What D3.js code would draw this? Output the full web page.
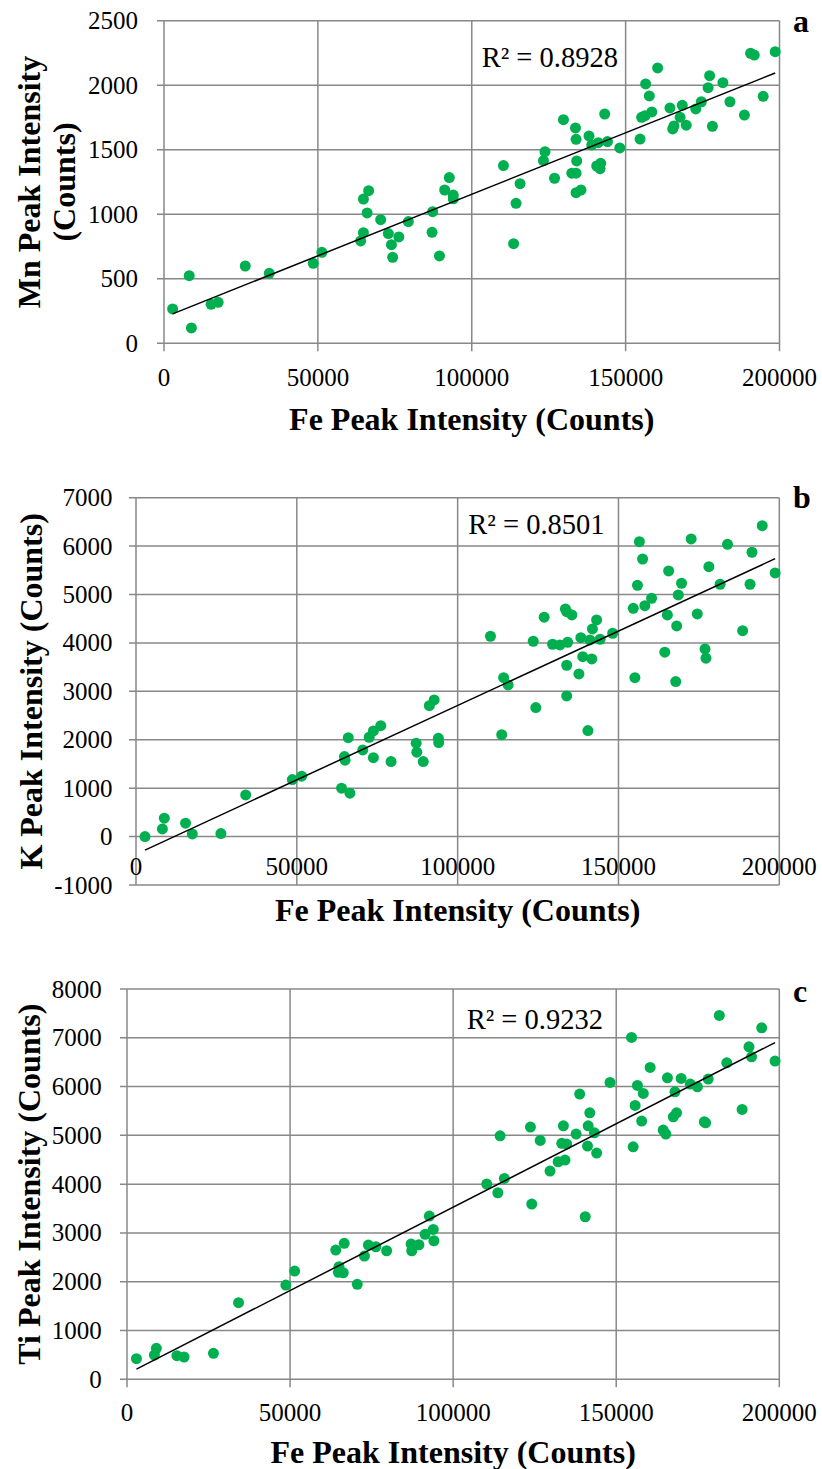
<!DOCTYPE html>
<html>
<head>
<meta charset="utf-8">
<script src="https://cdnjs.cloudflare.com/ajax/libs/d3/7.8.5/d3.min.js"></script>
<style>
  html, body { margin: 0; padding: 0; background: #fff; }
  svg { display: block; }
  text { font-family: "Liberation Serif", "Times New Roman", serif; fill: #000; }
</style>
</head>
<body>
<svg id="fig" width="822" height="1469"></svg>
<script>
// ---- Data: Fe peak intensity vs Mn, K, Ti peak intensity (counts) ----
const feMn = [2800, 8200, 8900, 15300, 17600, 26400, 34200, 48500, 51300, 63900, 64800, 64800, 66500, 66000, 70400, 72900, 73900, 74300, 76300, 79400, 87300, 87100, 89500, 92700, 91200, 94000, 94000,
  110300, 115700, 114400, 113600, 123800, 123300, 126900, 129800, 133700, 133900, 134100, 132500, 133900, 133900, 135500, 138100, 139000, 141100, 144100, 143200, 140600, 141900, 141700, 148100,
  154700, 155200, 156300, 156500, 157700, 158500, 160400, 164400, 165300, 165700, 168400, 167700, 169700, 172800, 174600, 176800, 177300, 178200, 181600, 183900, 188600, 190600, 191800, 194700, 198600];
const mn = [266, 524, 119, 302, 318, 599, 542, 620, 705, 793, 857, 1118, 1183, 1010, 958, 850, 764, 666, 824, 943, 1020, 860, 677, 1284, 1188, 1149, 1120,
  1377, 1237, 1085, 772, 1485, 1415, 1279, 1733, 1669, 1581, 1413, 1318, 1318, 1167, 1188, 1607, 1537, 1555, 1563, 1777, 1374, 1395, 1353, 1514,
  1583, 1751, 1764, 2010, 1917, 1793, 2134, 1824, 1661, 1684, 1844, 1751, 1690, 1816, 1872, 1981, 2074, 1682, 2020, 1872, 1769, 2247, 2234, 1914, 2260];

const feK = [2800, 8200, 8800, 15400, 17500, 26400, 34100, 48600, 51500, 63900, 66500, 64800, 65000, 66000, 70500, 72500, 73800, 76100, 73800, 79300, 87100, 87300, 89300, 91200, 92700, 94000, 94100,
  110200, 114300, 115700, 113700, 123500, 124300, 126900, 129500, 131800, 133500, 133900, 135500, 134200, 133900, 133900, 137700, 138300, 138900, 141700, 141100, 141900, 143200, 144300, 140500, 148200,
  154600, 155900, 155100, 156500, 157500, 158200, 160300, 164400, 165200, 165600, 167800, 168100, 168600, 169600, 172600, 174500, 176900, 177200, 178100, 181600, 183900, 188600, 190900, 191500, 194700, 198700];
const k = [0, 159, 380, 277, 56, 62, 861, 1177, 1247, 999, 896, 1652, 1578, 2044, 1790, 2052, 2183, 2292, 1631, 1549, 1929, 1743, 1549, 2705, 2823, 2032, 1941,
  4138, 3283, 3133, 2106, 4035, 2664, 4531, 3973, 3959, 4702, 4646, 4578, 4014, 3539, 2905, 3360, 4109, 3717, 3669, 4062, 4289, 4475, 4076, 2189, 4200,
  4716, 5191, 3283, 6092, 5734, 4770, 4923, 3808, 4578, 5487, 3201, 4351, 4991, 5233, 6148, 4599, 3876, 3684, 5576, 5212, 6038, 4254, 5212, 5873, 6422, 5445];

const feTi = [2900, 8400, 9000, 15300, 17500, 26500, 34200, 48700, 51400, 64000, 66600, 65000, 64800, 66300, 70600, 72800, 74000, 76300, 79600, 87100, 87300, 89500, 91400, 92700, 93900, 94100,
  110300, 113700, 115700, 114400, 123700, 126700, 129700, 132200, 133800, 133300, 134800, 134300, 124100, 137700, 138800, 141200, 141400, 141900, 143300, 144000, 140500, 148100,
  154700, 155200, 155800, 156500, 157800, 158300, 160400, 164400, 165200, 165700, 167500, 168500, 168000, 169900, 172700, 174900, 177000, 177400, 178200, 181600, 183900, 188600, 190700, 191500, 194600, 198700];
const ti = [422, 498, 635, 484, 457, 533, 1570, 1932, 2219, 2649, 2787, 2307, 2192, 2184, 1946, 2526, 2752, 2717, 2635, 2772, 2635, 2758, 2971, 3346, 3073, 2840,
  4002, 3824, 4118, 4991, 5170, 4897, 4268, 4459, 5196, 4836, 4821, 4493, 3592, 5026, 5846, 4780, 5196, 5463, 5053, 4637, 3332, 6085,
  7008, 4766, 5614, 6024, 5293, 5860, 6393, 5108, 5026, 6180, 5381, 5463, 5893, 6167, 6051, 5995, 5278, 5258, 6153, 7458, 6487, 5532, 6815, 6610, 7204, 6522];

// ---- Axis ticks and labels ----
const feTicks = [0, 50000, 100000, 150000, 200000];
const mnTicks = [0, 500, 1000, 1500, 2000, 2500];
const kTicks = [-1000, 0, 1000, 2000, 3000, 4000, 5000, 6000, 7000];
const tiTicks = [0, 1000, 2000, 3000, 4000, 5000, 6000, 7000, 8000];
const r2Labels = ["R\u00B2 = 0.8928", "R\u00B2 = 0.8501", "R\u00B2 = 0.9232"];
const panelLetters = ["a", "b", "c"];
const yTitles = [["Mn Peak Intensity", "(Counts)"], ["K Peak Intensity (Counts)"], ["Ti Peak Intensity (Counts)"]];
const xTitle = "Fe Peak Intensity (Counts)";

// ---- Panel layout ----
const panels = [
  { xs: feMn, ys: mn, yTicks: mnTicks, left: 164, right: 779.5, top: 20.7, bottom: 343.3,
    xLabelY: 377, xTitleY: 419, yLabelRight: 138, yTitleX: [28.5, 64],
    r2: [481.7, 66.7], letter: [793, 32] },
  { xs: feK, ys: k, yTicks: kTicks, left: 136, right: 779.3, top: 497.7, bottom: 885,
    xLabelY: 866, xTitleY: 910, yLabelRight: 112.5, yTitleX: [31],
    r2: [468.3, 534.3], letter: [793, 508] },
  { xs: feTi, ys: ti, yTicks: tiTicks, left: 127, right: 779.3, top: 989, bottom: 1379.3,
    xLabelY: 1412, xTitleY: 1452, yLabelRight: 101.7, yTitleX: [28.5],
    r2: [466.7, 1029.3], letter: [793, 1002] }
];

const GRID = "#888888";
const GREEN = "#00B050";
const svg = d3.select("#fig");

// Ordinary least-squares fit of y on x
function linearFit(xs, ys) {
  const mx = d3.mean(xs), my = d3.mean(ys);
  let sxy = 0, sxx = 0;
  xs.forEach((x, i) => { sxy += (x - mx) * (ys[i] - my); sxx += (x - mx) * (x - mx); });
  const slope = sxy / sxx;
  return { slope, intercept: my - slope * mx };
}

panels.forEach((p, idx) => {
  const x = d3.scaleLinear().domain([0, 200000]).range([p.left, p.right]);
  const y = d3.scaleLinear().domain(d3.extent(p.yTicks)).range([p.bottom, p.top]);
  const g = svg.append("g");

  // horizontal gridlines with short outward ticks on the left
  g.selectAll("line.hg").data(p.yTicks).join("line")
    .attr("x1", p.left - 7).attr("x2", p.right)
    .attr("y1", d => y(d)).attr("y2", d => y(d))
    .attr("stroke", GRID).attr("stroke-width", 1.5);

  // vertical gridlines with short outward ticks at the bottom
  const tickExt = idx === 1 ? 0 : 8;
  g.selectAll("line.vg").data(feTicks).join("line")
    .attr("x1", d => x(d)).attr("x2", d => x(d))
    .attr("y1", p.top).attr("y2", p.bottom + tickExt)
    .attr("stroke", GRID).attr("stroke-width", 1.5);

  // y tick labels
  g.selectAll("text.yl").data(p.yTicks).join("text")
    .attr("x", p.yLabelRight).attr("y", d => y(d))
    .attr("text-anchor", "end").attr("dominant-baseline", "central")
    .style("font-size", "25px")
    .text(d => d);

  // x tick labels
  g.selectAll("text.xl").data(feTicks).join("text")
    .attr("x", d => x(d)).attr("y", p.xLabelY)
    .attr("text-anchor", "middle").attr("dominant-baseline", "central")
    .style("font-size", "25px")
    .text(d => d);

  // axis titles
  g.append("text")
    .attr("x", (p.left + p.right) / 2).attr("y", p.xTitleY)
    .attr("text-anchor", "middle").attr("dominant-baseline", "central")
    .style("font-size", "32px").style("font-weight", "bold")
    .text(xTitle);

  const cy = (p.top + p.bottom) / 2;
  yTitles[idx].forEach((t, j) => {
    g.append("text")
      .attr("transform", `translate(${p.yTitleX[j]},${cy}) rotate(-90)`)
      .attr("text-anchor", "middle").attr("dominant-baseline", "central")
      .style("font-size", "32px").style("font-weight", "bold")
      .text(t);
  });

  // data points
  g.selectAll("circle").data(p.xs.map((v, i) => [v, p.ys[i]])).join("circle")
    .attr("cx", d => x(d[0])).attr("cy", d => y(d[1]))
    .attr("r", 5.5).attr("fill", GREEN);

  // linear trendline over the data range
  const fit = linearFit(p.xs, p.ys);
  const [xmin, xmax] = d3.extent(p.xs);
  g.append("line")
    .attr("x1", x(xmin)).attr("y1", y(fit.intercept + fit.slope * xmin))
    .attr("x2", x(xmax)).attr("y2", y(fit.intercept + fit.slope * xmax))
    .attr("stroke", "#000").attr("stroke-width", 1.5);

  // R² label
  g.append("text")
    .attr("x", p.r2[0]).attr("y", p.r2[1])
    .style("font-size", "28.5px")
    .text(r2Labels[idx]);

  // panel letter
  g.append("text")
    .attr("x", p.letter[0]).attr("y", p.letter[1])
    .style("font-size", "32px").style("font-weight", "bold")
    .text(panelLetters[idx]);
});
</script>
</body>
</html>
